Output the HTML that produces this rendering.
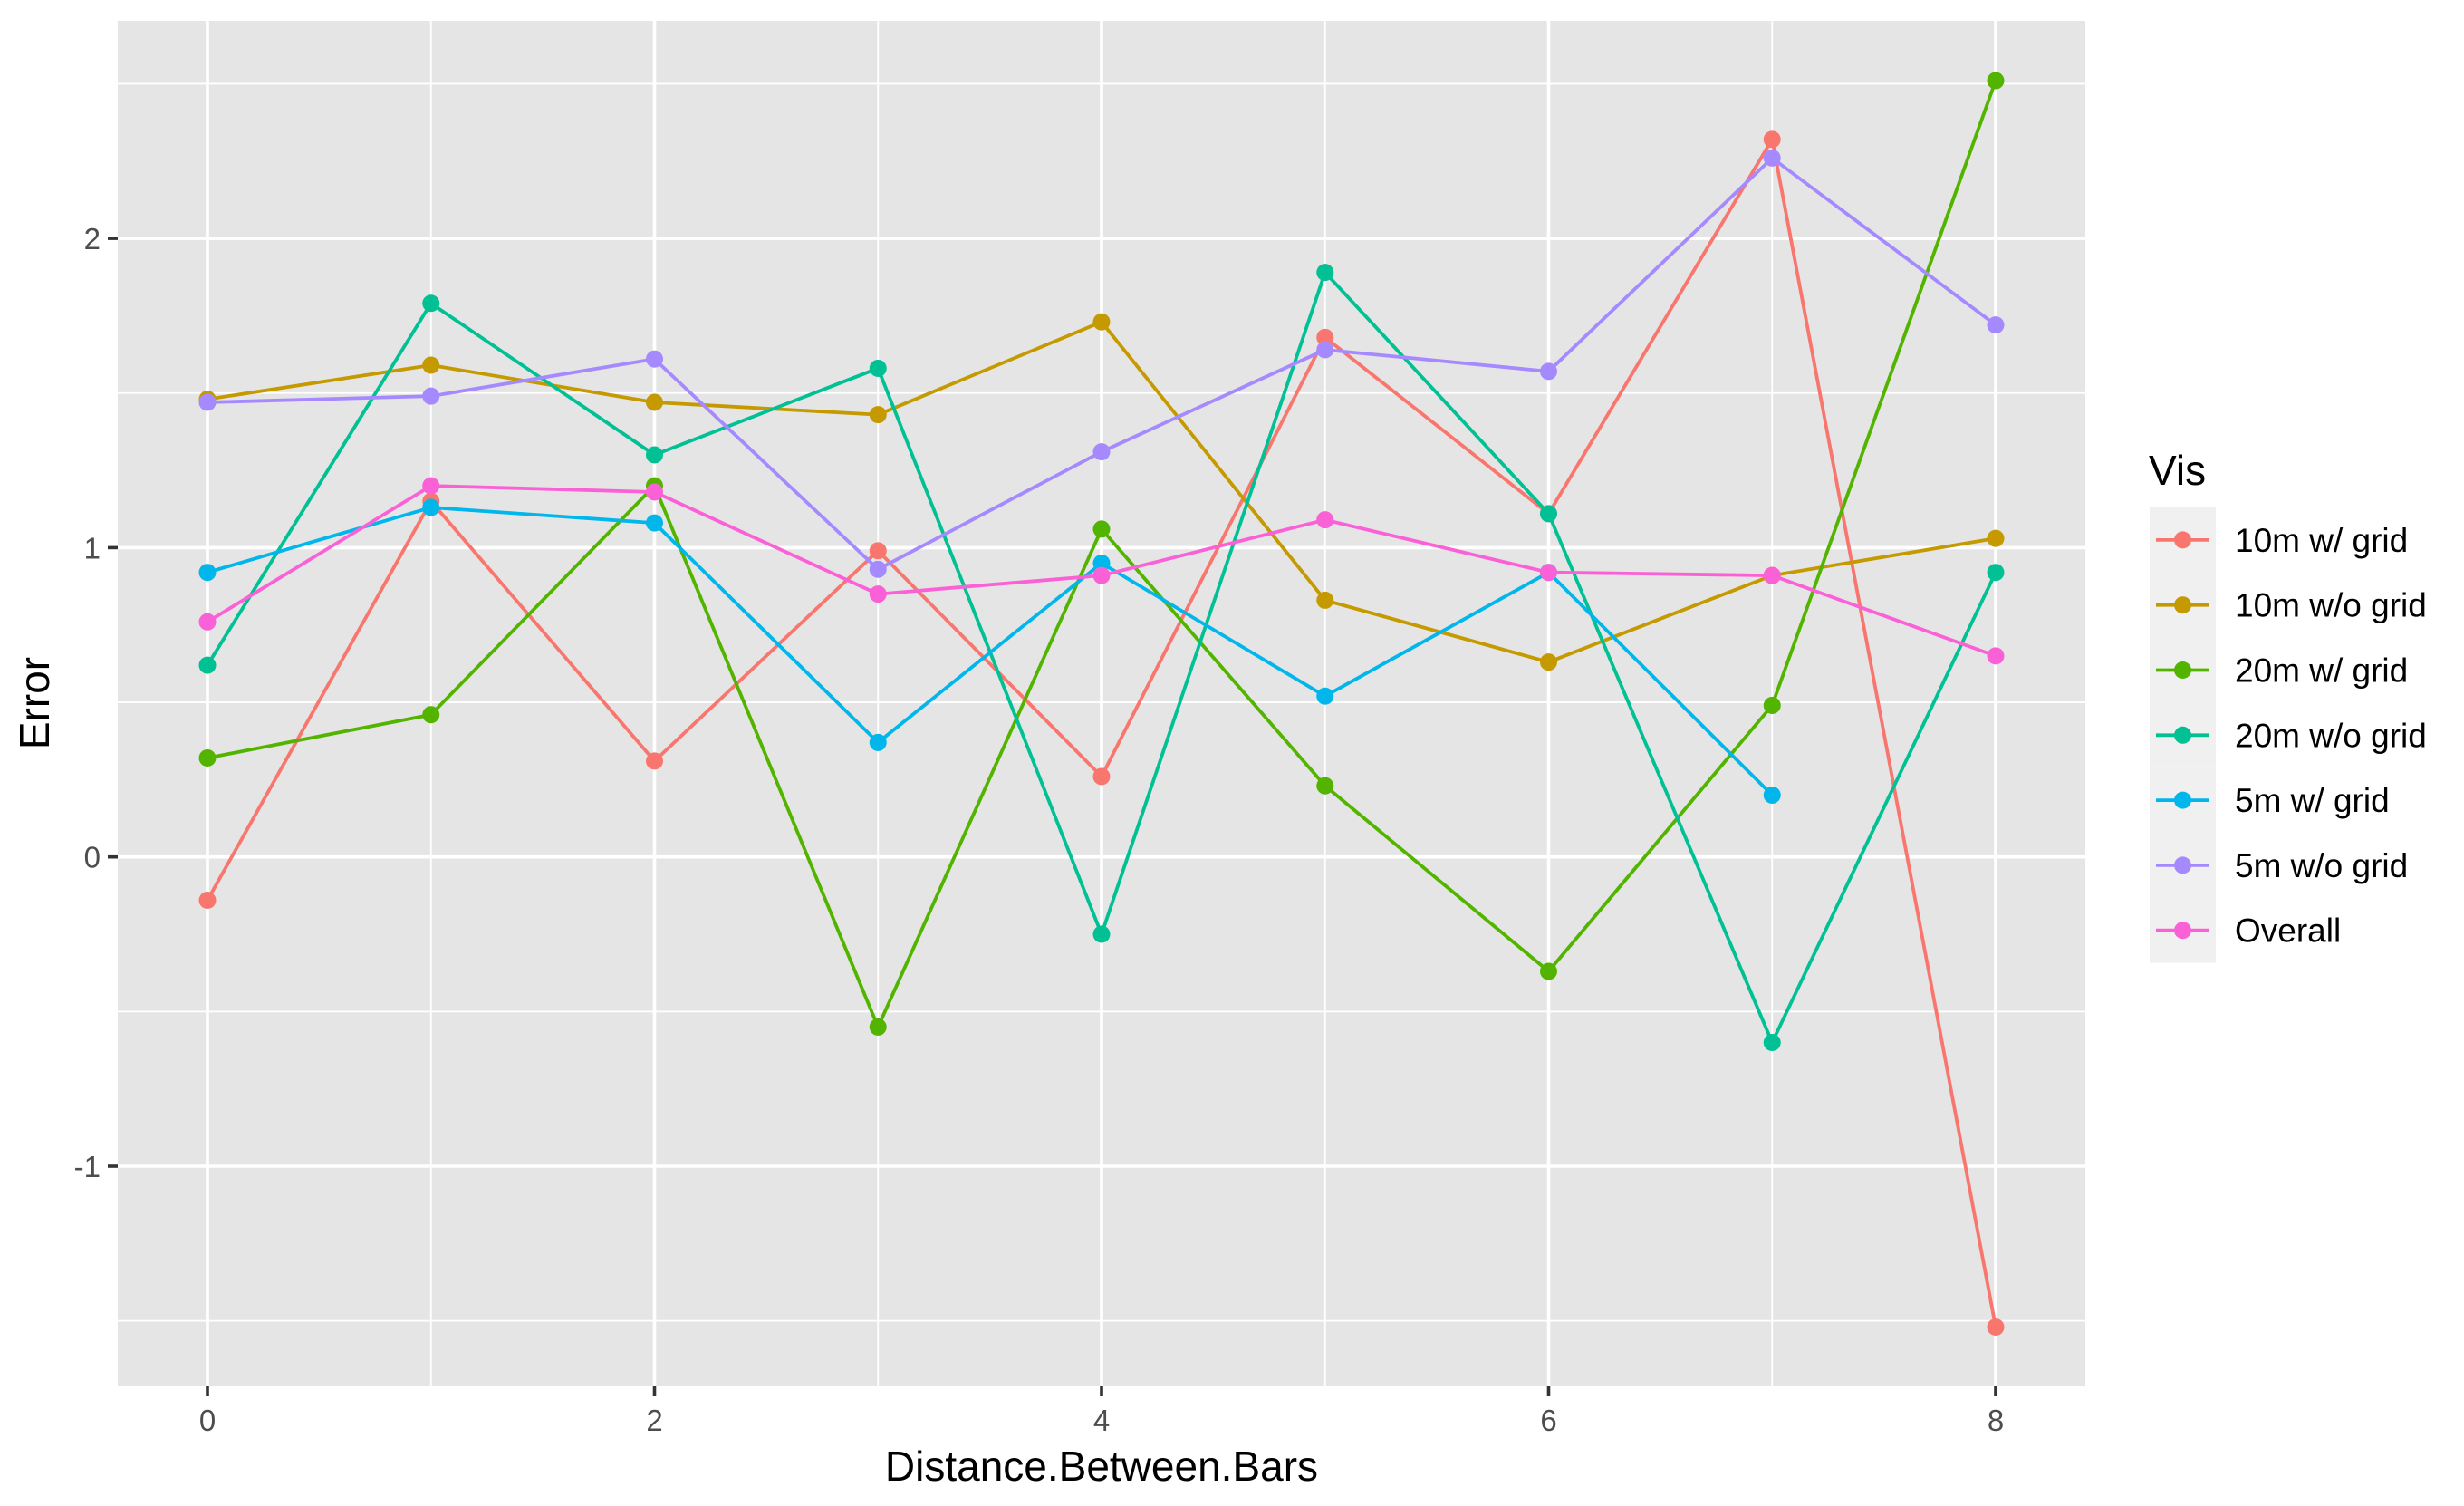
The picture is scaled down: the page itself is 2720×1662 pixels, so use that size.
<!DOCTYPE html>
<html><head><meta charset="utf-8"><style>
html,body{margin:0;padding:0;background:#fff;}
svg{display:block;font-family:"Liberation Sans",Arial,sans-serif;}
</style></head><body>
<svg id="chart" width="2720" height="1662" viewBox="0 0 2720 1662" xmlns="http://www.w3.org/2000/svg">
<rect x="0" y="0" width="2720" height="1662" fill="#fff"/>
<rect x="130" y="23" width="2172" height="1507" fill="#E5E5E5"/>
<g id="grid"></g>
<g id="axes"></g>
<g id="series"></g>
<text x="1216" y="1634" text-anchor="middle" font-size="46" fill="#000">Distance.Between.Bars</text>
<text transform="translate(54,776) rotate(-90)" text-anchor="middle" font-size="46" fill="#000">Error</text>
<g id="legend"></g>
</svg>
<script>
const categories = [0,1,2,3,4,5,6,7,8];
const seriesNames = ["10m w/ grid","10m w/o grid","20m w/ grid","20m w/o grid","5m w/ grid","5m w/o grid","Overall"];
const seriesColors = ["#F8766D","#C49A00","#53B400","#00C094","#00B6EB","#A58AFF","#FB61D7"];
const s10mGrid   = [-0.14,1.15,0.31,0.99,0.26,1.68,1.11,2.32,-1.52];
const s10mNoGrid = [1.48,1.59,1.47,1.43,1.73,0.83,0.63,0.91,1.03];
const s20mGrid   = [0.32,0.46,1.20,-0.55,1.06,0.23,-0.37,0.49,2.51];
const s20mNoGrid = [0.62,1.79,1.30,1.58,-0.25,1.89,1.11,-0.60,0.92];
const s5mGrid    = [0.92,1.13,1.08,0.37,0.95,0.52,0.92,0.20,null];
const s5mNoGrid  = [1.47,1.49,1.61,0.93,1.31,1.64,1.57,2.26,1.72];
const sOverall   = [0.76,1.20,1.18,0.85,0.91,1.09,0.92,0.91,0.65];
const xTicks = [0,2,4,6,8];
const xMinor = [1,3,5,7];
const yTicks = [-1,0,1,2];
const yMinor = [-1.5,-0.5,0.5,1.5,2.5];

const allSeries = [s10mGrid,s10mNoGrid,s20mGrid,s20mNoGrid,s5mGrid,s5mNoGrid,sOverall];
const PL=130,PR=2302,PT=23,PB=1530;
function xs(v){return 229 + v*246.75;}
function ys(v){return 945.7 - v*341.3;}
const NS="http://www.w3.org/2000/svg";
function mk(tag,attrs,parent){const e=document.createElementNS(NS,tag);for(const k in attrs)e.setAttribute(k,attrs[k]);parent.appendChild(e);return e;}
const grid=document.getElementById('grid'),axes=document.getElementById('axes'),ser=document.getElementById('series'),leg=document.getElementById('legend');
yMinor.forEach(v=>{const y=ys(v);if(y<PT||y>PB)return;const l=mk('line',{x1:PL,x2:PR,y1:y,y2:y,stroke:'#fff','stroke-width':1.8},grid);

});
xMinor.forEach(v=>{const x=xs(v);const l=mk('line',{x1:x,x2:x,y1:PT,y2:PB,stroke:'#fff','stroke-width':1.8},grid);

});
yTicks.forEach(v=>{const y=ys(v);const l=mk('line',{x1:PL,x2:PR,y1:y,y2:y,stroke:'#fff','stroke-width':3.6},grid);


const t=mk('line',{x1:PL-11,x2:PL,y1:y,y2:y,stroke:'#333','stroke-width':3.6},axes);


const tx=mk('text',{x:PL-19,y:y+12,'text-anchor':'end','font-size':33,fill:'#4D4D4D'},axes);tx.textContent=v;

});
xTicks.forEach(v=>{const x=xs(v);const l=mk('line',{x1:x,x2:x,y1:PT,y2:PB,stroke:'#fff','stroke-width':3.6},grid);


const t=mk('line',{x1:x,x2:x,y1:PB,y2:PB+11,stroke:'#333','stroke-width':3.6},axes);


const tx=mk('text',{x:x,y:PB+49,'text-anchor':'middle','font-size':33,fill:'#4D4D4D'},axes);tx.textContent=v;

});
allSeries.forEach((arr,i)=>{
  const g=mk('g',{},ser);
  
  
  const pts=[];categories.forEach((c,j)=>{if(arr[j]!==null)pts.push(xs(c)+','+ys(arr[j]));});
  const p=mk('polyline',{points:pts.join(' '),fill:'none',stroke:seriesColors[i],'stroke-width':3.8,'stroke-linejoin':'round'},g);
  
  
  categories.forEach((c,j)=>{if(arr[j]===null)return;const d=mk('circle',{cx:xs(c),cy:ys(arr[j]),r:9.5,fill:seriesColors[i]},g);
  
  });
});
const lt=mk('text',{x:2372,y:535,'font-size':46,fill:'#000'},leg);lt.textContent='Vis';


seriesNames.forEach((n,i)=>{
  const y0=560+i*71.8,cy=y0+35.9;
  const g=mk('g',{},leg);
  
  
  mk('rect',{x:2373,y:y0,width:73,height:71.8,fill:'#F0F0F0'},g);
  mk('line',{x1:2380,x2:2439,y1:cy,y2:cy,stroke:seriesColors[i],'stroke-width':3.8},g);
  mk('circle',{cx:2409.5,cy:cy,r:9.5,fill:seriesColors[i]},g);
  const t=mk('text',{x:2467,y:cy+13,'font-size':37,fill:'#000'},g);t.textContent=n;
  
  
});
</script>
</body></html>
